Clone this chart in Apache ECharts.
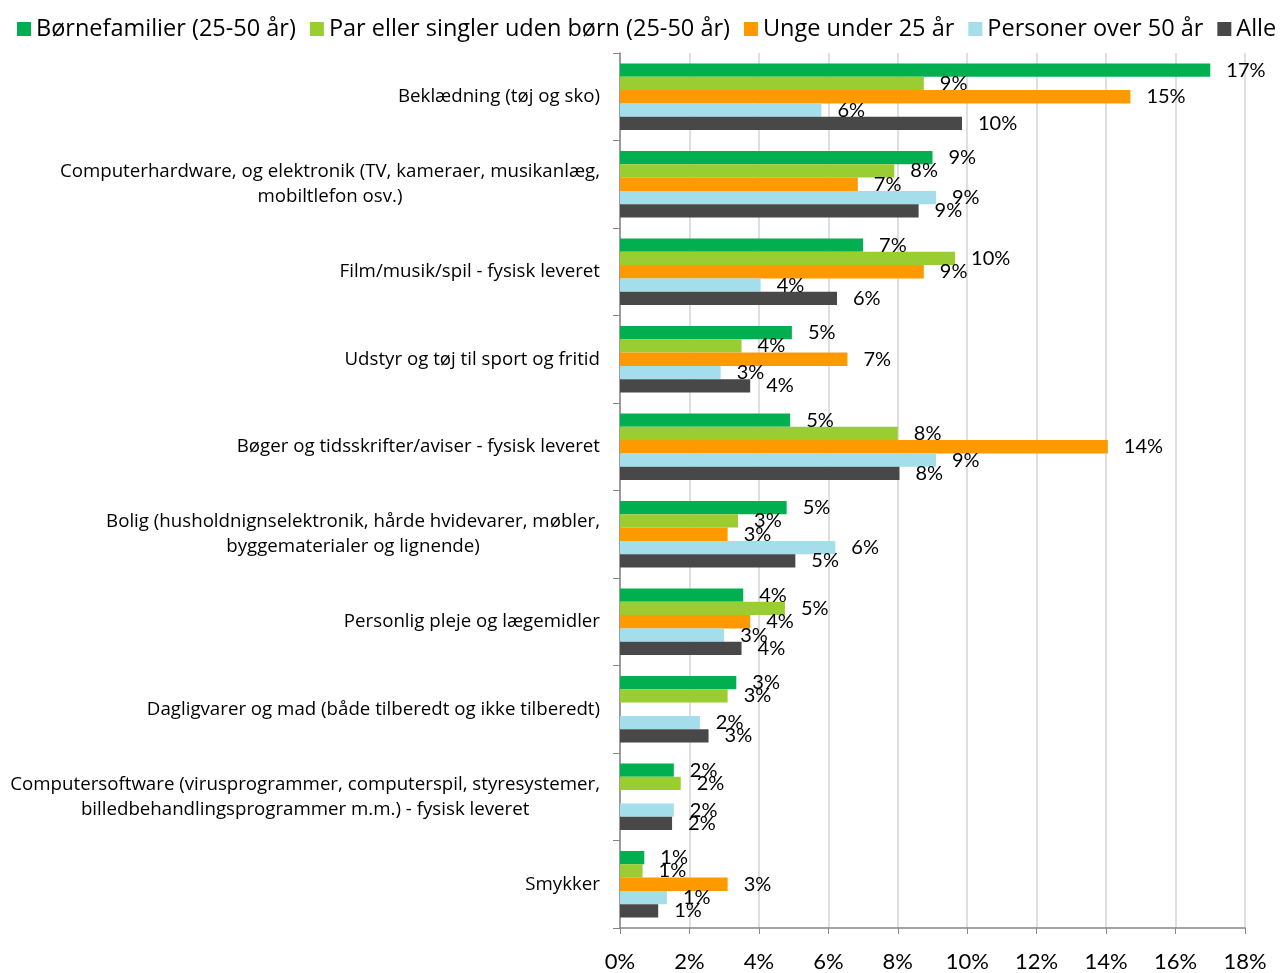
<!DOCTYPE html>
<html>
<head>
<meta charset="utf-8">
<script src="https://cdn.jsdelivr.net/npm/echarts@6/dist/echarts.min.js"></script>
<style>
html,body{margin:0;padding:0;background:#fff;}
#chart{width:1282px;height:973px;}
</style>
</head>
<body>
<div id="chart"></div>
<script>
var categories = [
  "Beklædning (tøj og sko)",
  "Computerhardware, og elektronik (TV, kameraer, musikanlæg,\nmobiltlefon osv.)",
  "Film/musik/spil - fysisk leveret",
  "Udstyr og tøj til sport og fritid",
  "Bøger og tidsskrifter/aviser - fysisk leveret",
  "Bolig (husholdnignselektronik, hårde hvidevarer, møbler,\nbyggematerialer og lignende)",
  "Personlig pleje og lægemidler",
  "Dagligvarer og mad (både tilberedt og ikke tilberedt)",
  "Computersoftware (virusprogrammer, computerspil, styresystemer,\nbilledbehandlingsprogrammer m.m.) - fysisk leveret",
  "Smykker"
];
var seriesNames = ["Børnefamilier (25-50 år)", "Par eller singler uden børn (25-50 år)", "Unge under 25 år", "Personer over 50 år", "Alle"];
var boernefamilier = [17.0, 9.0, 7.0, 4.95, 4.9, 4.8, 3.55, 3.35, 1.55, 0.7];
var parSingler     = [8.75, 7.9, 9.65, 3.5, 8.0, 3.4, 4.75, 3.1, 1.75, 0.65];
var ungeUnder25    = [14.7, 6.85, 8.75, 6.55, 14.05, 3.1, 3.75, null, null, 3.1];
var personerOver50 = [5.8, 9.1, 4.05, 2.9, 9.1, 6.2, 3.0, 2.3, 1.55, 1.35];
var alle           = [9.85, 8.6, 6.25, 3.75, 8.05, 5.05, 3.5, 2.55, 1.5, 1.1];
var xTicks = [0, 2, 4, 6, 8, 10, 12, 14, 16, 18];
var colors = ["#00B050", "#9ACD32", "#FF9900", "#A3DEEA", "#484848"];

var FONT = "Open Sans";
var NUMFONT = "Lato";
var allData = [boernefamilier, parSingler, ungeUnder25, personerOver50, alle];

var chart = echarts.init(document.getElementById('chart'), null, {renderer: 'canvas'});
var series = allData.map(function (d, i) {
  return {
    name: seriesNames[i],
    type: 'bar',
    data: d,
    barGap: '0%',
    barCategoryGap: '24%',
    itemStyle: {color: colors[i]},
    label: {
      show: true,
      position: 'right',
      distance: 16,
      fontFamily: NUMFONT,
      fontSize: 20,
      color: '#000',
      formatter: function (p) { return p.value == null ? '' : Math.round(p.value) + '%'; }
    }
  };
});

chart.setOption({
  animation: false,
  color: colors,
  legend: {
    top: 12,
    left: 12,
    itemWidth: 14,
    itemHeight: 14,
    itemGap: 14,
    icon: 'rect',
    textStyle: {fontFamily: FONT, fontSize: 23.5, color: '#000', padding: [0, 0, 0, 0]},
    data: seriesNames
  },
  grid: {left: 620, right: 37, top: 53, bottom: 43, containLabel: false},
  xAxis: {
    type: 'value',
    min: xTicks[0],
    max: xTicks[xTicks.length - 1],
    interval: 2,
    axisLine: {show: true, lineStyle: {color: '#868686', width: 1.5}},
    axisTick: {show: true, length: 6, lineStyle: {color: '#868686'}},
    splitLine: {show: true, lineStyle: {color: '#D4D4D4', width: 1.5}},
    axisLabel: {fontFamily: NUMFONT, fontSize: 22, color: '#000', margin: 23, formatter: '{value}%'}
  },
  yAxis: {
    type: 'category',
    inverse: true,
    data: categories,
    axisLine: {show: true, lineStyle: {color: '#868686', width: 1.5}},
    axisTick: {show: true, length: 7, lineStyle: {color: '#868686'}},
    axisLabel: {
      fontFamily: FONT, fontSize: 18.7, color: '#000', margin: 20, lineHeight: 25,
      formatter: function (v) {
        return v.split('\n').map(function (l) { return '{c|' + l + '}'; }).join('\n');
      },
      rich: {c: {align: 'center', fontFamily: FONT, fontSize: 18.7, color: '#000', lineHeight: 25}}
    }
  },
  series: series
});
</script>
</body>
</html>
